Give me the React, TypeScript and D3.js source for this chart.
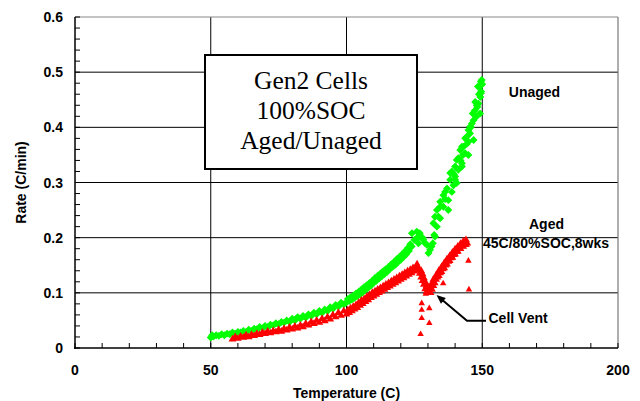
import React from 'react';
import * as d3 from 'd3';

const W = 640;
const H = 401;

const xTicks = [0, 50, 100, 150, 200];
const xTickLabels = ['0', '50', '100', '150', '200'];
const yTicks = [0, 0.1, 0.2, 0.3, 0.4, 0.5, 0.6];
const yTickLabels = ['0', '0.1', '0.2', '0.3', '0.4', '0.5', '0.6'];
const xMinor = [10, 20, 30, 40, 60, 70, 80, 90, 110, 120, 130, 140, 160, 170, 180, 190];
const yMinor = [0.02, 0.04, 0.06, 0.08, 0.12, 0.14, 0.16, 0.18, 0.22, 0.24, 0.26, 0.28, 0.32, 0.34, 0.36, 0.38, 0.42, 0.44, 0.46, 0.48, 0.52, 0.54, 0.56, 0.58];

const boxLines = ['Gen2 Cells', '100%SOC', 'Aged/Unaged'];

// Unaged cells: [temperature C, rate C/min]
const unaged: [number, number][] = [
  [50, 0.019], [50.5, 0.023], [51, 0.021], [52, 0.023], [53, 0.022], [54, 0.025], [55, 0.023], [56, 0.026],
  [57, 0.025], [58, 0.028], [59, 0.026], [60, 0.029], [61, 0.028], [62, 0.031], [63, 0.029], [64, 0.033],
  [65, 0.031], [66, 0.035], [67, 0.034], [68, 0.038], [69, 0.036], [70, 0.040], [71, 0.038], [72, 0.042],
  [73, 0.041], [74, 0.045], [75, 0.043], [76, 0.047], [77, 0.046], [78, 0.050], [79, 0.047], [80, 0.053],
  [81, 0.050], [82, 0.056], [83, 0.053], [84, 0.058], [85, 0.055], [86, 0.061], [87, 0.058], [88, 0.064],
  [89, 0.061], [90, 0.067], [91, 0.064], [92, 0.070], [93, 0.067], [94, 0.074], [95, 0.071], [96, 0.078],
  [97, 0.075], [98, 0.082], [99, 0.079], [100, 0.083], [100.5, 0.089], [101, 0.085], [101.5, 0.092], [102, 0.088],
  [102.5, 0.095], [103, 0.091], [103.5, 0.099], [104, 0.094], [104.5, 0.102], [105, 0.097], [105.5, 0.106], [106, 0.101],
  [106.5, 0.110], [107, 0.105], [107.5, 0.114], [108, 0.109], [108.5, 0.118], [109, 0.113], [109.5, 0.122], [110, 0.118],
  [110.5, 0.127], [111, 0.122], [111.5, 0.131], [112, 0.126], [112.5, 0.135], [113, 0.130], [113.5, 0.139], [114, 0.134],
  [114.5, 0.143], [115, 0.138], [115.5, 0.147], [116, 0.143], [116.5, 0.152], [117, 0.147], [117.5, 0.156], [118, 0.151],
  [118.5, 0.161], [119, 0.156], [119.5, 0.165], [120, 0.160], [120.5, 0.170], [121, 0.165], [121.5, 0.175], [122, 0.170],
  [122.5, 0.181], [123, 0.176], [123.5, 0.188], [124, 0.184], [124.1, 0.208], [125, 0.196], [125.9, 0.211], [126, 0.200],
  [126.5, 0.190], [127, 0.208], [127.1, 0.202], [128, 0.200], [128.3, 0.196], [129, 0.190], [129.6, 0.187], [130.2, 0.172],
  [130.8, 0.178], [131.3, 0.184], [131.8, 0.190], [132, 0.226], [132.3, 0.205], [132.6, 0.238], [132.6, 0.202], [133.3, 0.220],
  [133.3, 0.250], [133.9, 0.238], [134.5, 0.235], [134.5, 0.256], [134.5, 0.265], [135.7, 0.256], [135.7, 0.277], [136.3, 0.270],
  [136.3, 0.283], [137, 0.289], [137.5, 0.250], [137.5, 0.268], [138.2, 0.305], [138.2, 0.317], [138.8, 0.283], [138.8, 0.320],
  [139.4, 0.295], [139.6, 0.315], [140, 0.305], [140, 0.311], [140, 0.329], [140.6, 0.299], [140.6, 0.341], [141.2, 0.323],
  [141.2, 0.344], [141.9, 0.359], [142, 0.340], [142.5, 0.329], [142.5, 0.335], [142.5, 0.365], [142.9, 0.350], [143.1, 0.365],
  [143.7, 0.353], [143.7, 0.380], [144.3, 0.370], [144.3, 0.383], [144.9, 0.350], [144.9, 0.374], [144.9, 0.395], [145.5, 0.389],
  [145.5, 0.401], [145.8, 0.400], [146.2, 0.407], [146.5, 0.425], [146.8, 0.377], [146.8, 0.413], [147.2, 0.430], [147.4, 0.446],
  [147.8, 0.419], [148, 0.440], [148.2, 0.437], [148.4, 0.474], [148.6, 0.443], [148.8, 0.460], [149, 0.474], [149.2, 0.425],
  [149.3, 0.455], [149.5, 0.462], [149.5, 0.483], [149.6, 0.465], [149.8, 0.486], [150, 0.478],
];

// Aged cells (45C/80%SOC, 8 wks): [temperature C, rate C/min]
const aged: [number, number][] = [
  [58, 0.016], [59, 0.020], [60, 0.017], [61, 0.021], [62, 0.019], [63, 0.023], [64, 0.020], [65, 0.024],
  [66, 0.022], [67, 0.026], [68, 0.024], [69, 0.028], [70, 0.026], [71, 0.030], [72, 0.027], [73, 0.031],
  [74, 0.029], [75, 0.033], [76, 0.030], [77, 0.035], [78, 0.032], [79, 0.037], [80, 0.034], [81, 0.039],
  [82, 0.036], [83, 0.041], [84, 0.038], [85, 0.044], [86, 0.041], [87, 0.047], [88, 0.044], [89, 0.050],
  [90, 0.046], [91, 0.053], [92, 0.049], [93, 0.056], [94, 0.052], [95, 0.060], [96, 0.056], [97, 0.064],
  [98, 0.059], [99, 0.067], [100, 0.061], [100.5, 0.069], [101, 0.064], [101.5, 0.072], [102, 0.067], [102.5, 0.075],
  [103, 0.070], [103.5, 0.078], [104, 0.073], [104.5, 0.082], [105, 0.077], [105.5, 0.086], [106, 0.080], [106.5, 0.089],
  [107, 0.084], [107.5, 0.093], [108, 0.087], [108.5, 0.096], [109, 0.091], [109.5, 0.100], [110, 0.094], [110.5, 0.103],
  [111, 0.097], [111.5, 0.106], [112, 0.100], [112.5, 0.109], [113, 0.103], [113.5, 0.112], [114, 0.106], [114.5, 0.115],
  [115, 0.109], [115.5, 0.118], [116, 0.112], [116.5, 0.121], [117, 0.115], [117.5, 0.124], [118, 0.118], [118.5, 0.127],
  [119, 0.121], [119.5, 0.130], [120, 0.124], [120.5, 0.133], [121, 0.127], [121.5, 0.136], [122, 0.130], [122.5, 0.139],
  [123, 0.133], [123.5, 0.142], [124, 0.136], [124.5, 0.145], [125, 0.139], [125.5, 0.147], [126, 0.141], [126.5, 0.146],
  [127, 0.135], [127.5, 0.128], [127.5, 0.140], [128, 0.122], [128, 0.134], [128.5, 0.115], [128.5, 0.127], [129, 0.107],
  [129, 0.120], [129.5, 0.102], [129.5, 0.113], [130, 0.100], [130, 0.110], [130.5, 0.104], [131, 0.100], [131, 0.112],
  [131.5, 0.106], [131.5, 0.118], [132, 0.113], [132, 0.124], [132.5, 0.118], [133, 0.124], [133, 0.132], [133.5, 0.128],
  [134, 0.131], [134, 0.140], [134.5, 0.136], [135, 0.138], [135, 0.147], [135.5, 0.143], [136, 0.145], [136, 0.154],
  [136.5, 0.150], [137, 0.152], [137, 0.161], [137.5, 0.157], [138, 0.158], [138, 0.167], [138.5, 0.163], [139, 0.164],
  [139, 0.173], [139.5, 0.169], [140, 0.170], [140, 0.179], [140.5, 0.175], [141, 0.175], [141, 0.184], [141.5, 0.180],
  [142, 0.180], [142, 0.189], [142.5, 0.185], [143, 0.184], [143, 0.193], [143.5, 0.189], [144, 0.187], [144, 0.196],
  [144.5, 0.190],
];

// Aged cells: scattered readings around the vent event
const agedScatter: [number, number][] = [
  [126.0, 0.153], [127.7, 0.081], [127.7, 0.069], [127.7, 0.054], [127.3, 0.025], [129.2, 0.098],
  [130.5, 0.072], [130.5, 0.045], [135.6, 0.117], [144.9, 0.158], [145.1, 0.106],
];

const diamondType = {
  draw(ctx: any, size: number) {
    const r = Math.sqrt(size) * 0.62625;
    ctx.moveTo(0, -r);
    ctx.lineTo(r, 0);
    ctx.lineTo(0, r);
    ctx.lineTo(-r, 0);
    ctx.closePath();
  },
};

export default function App() {
  const x = d3.scaleLinear().domain([0, 200]).range([75, 618]);
  const y = d3.scaleLinear().domain([0, 0.6]).range([348, 17]);
  const diamond = d3.symbol().type(diamondType as any).size(40)() as string;
  const tri = d3.symbol().type(d3.symbolTriangle).size(26)() as string;
  const triSmall = d3.symbol().type(d3.symbolTriangle).size(18)() as string;

  const sans = '"Liberation Sans", Arial, sans-serif';
  const serif = '"Liberation Serif", "Times New Roman", serif';

  // arrow geometry
  const ax0 = 486, ay0 = 320.7, ax1 = 467, ay1 = 320.7, tipX = 436.5, tipY = 295;
  const dx = tipX - ax1, dy = tipY - ay1;
  const len = Math.hypot(dx, dy);
  const ux = dx / len, uy = dy / len;
  const hl = 9, hw = 3.8;
  const bx = tipX - ux * hl, by = tipY - uy * hl;
  const head = `M${tipX},${tipY}L${bx - uy * hw},${by + ux * hw}L${bx + uy * hw},${by - ux * hw}Z`;

  return (
    <svg width={W} height={H} style={{ position: 'absolute', left: 0, top: 0, background: '#fff' }}>
      <rect x={0} y={0} width={W} height={H} fill="#fff" />
      {/* gridlines */}
      <g stroke="#000" strokeWidth={1}>
        {yTicks.slice(1, -1).map((t) => (
          <line key={'gy' + t} x1={x(0)} x2={x(200)} y1={y(t)} y2={y(t)} />
        ))}
        {xTicks.slice(1, -1).map((t) => (
          <line key={'gx' + t} x1={x(t)} x2={x(t)} y1={y(0)} y2={y(0.6)} />
        ))}
      </g>
      {/* plot border top/right */}
      <line x1={x(0)} x2={x(200)} y1={y(0.6)} y2={y(0.6)} stroke="#888" strokeWidth={1} />
      <line x1={x(200)} x2={x(200)} y1={y(0.6)} y2={y(0)} stroke="#777" strokeWidth={1.2} />

      {/* data */}
      <g fill="#00ff00">
        {unaged.map((d, i) => (
          <path key={'u' + i} d={diamond} transform={`translate(${x(d[0])},${y(d[1])})`} />
        ))}
      </g>
      <g fill="#ff0000">
        {aged.map((d, i) => (
          <path key={'a' + i} d={tri} transform={`translate(${x(d[0])},${y(d[1])})`} />
        ))}
        {agedScatter.map((d, i) => (
          <path key={'s' + i} d={triSmall} transform={`translate(${x(d[0])},${y(d[1])})`} />
        ))}
      </g>

      {/* axes */}
      <line x1={x(0)} x2={x(0)} y1={y(0.6)} y2={y(0) + 1} stroke="#000" strokeWidth={1.5} />
      <line x1={x(0) - 1} x2={x(200)} y1={y(0)} y2={y(0)} stroke="#000" strokeWidth={1.6} />
      <g stroke="#000" strokeWidth={1}>
        {yMinor.concat(yTicks).map((t) => (
          <line key={'ty' + t} x1={x(0)} x2={x(0) + 5} y1={y(t)} y2={y(t)} />
        ))}
        {xMinor.concat(xTicks).map((t) => (
          <line key={'tx' + t} x1={x(t)} x2={x(t)} y1={y(0)} y2={y(0) - 5} />
        ))}
      </g>

      {/* tick labels */}
      <g fontFamily={sans} fontWeight="bold" fontSize={14} fill="#000">
        {yTicks.map((t, i) => (
          <text key={'ly' + t} x={63} y={y(t) + 5} textAnchor="end">{yTickLabels[i]}</text>
        ))}
        {xTicks.map((t, i) => (
          <text key={'lx' + t} x={x(t)} y={375} textAnchor="middle">{xTickLabels[i]}</text>
        ))}
        <text x={x(100)} y={398} textAnchor="middle">Temperature (C)</text>
        <text transform={`translate(26,${(y(0) + y(0.6)) / 2}) rotate(-90)`} textAnchor="middle">Rate (C/min)</text>

        <text x={534.5} y={96.7} textAnchor="middle">Unaged</text>
        <text x={546.5} y={228.8} textAnchor="middle">Aged</text>
        <text x={546} y={248} textAnchor="middle">45C/80%SOC,8wks</text>
        <text x={488.5} y={323} textAnchor="start">Cell Vent</text>
      </g>

      {/* arrow */}
      <path d={`M${ax0},${ay0}L${ax1},${ay1}L${bx + ux * 1},${by + uy * 1}`} fill="none" stroke="#000" strokeWidth={2} />
      <path d={head} fill="#000" />

      {/* title box */}
      <rect x={205} y={55} width={212} height={114} fill="#fff" stroke="#000" strokeWidth={2} />
      <g fontFamily={serif} fontSize={25.5} fill="#000" textAnchor="middle">
        {boxLines.map((s, i) => (
          <text key={s} x={311} y={89.3 + i * 30}>{s}</text>
        ))}
      </g>
    </svg>
  );
}
